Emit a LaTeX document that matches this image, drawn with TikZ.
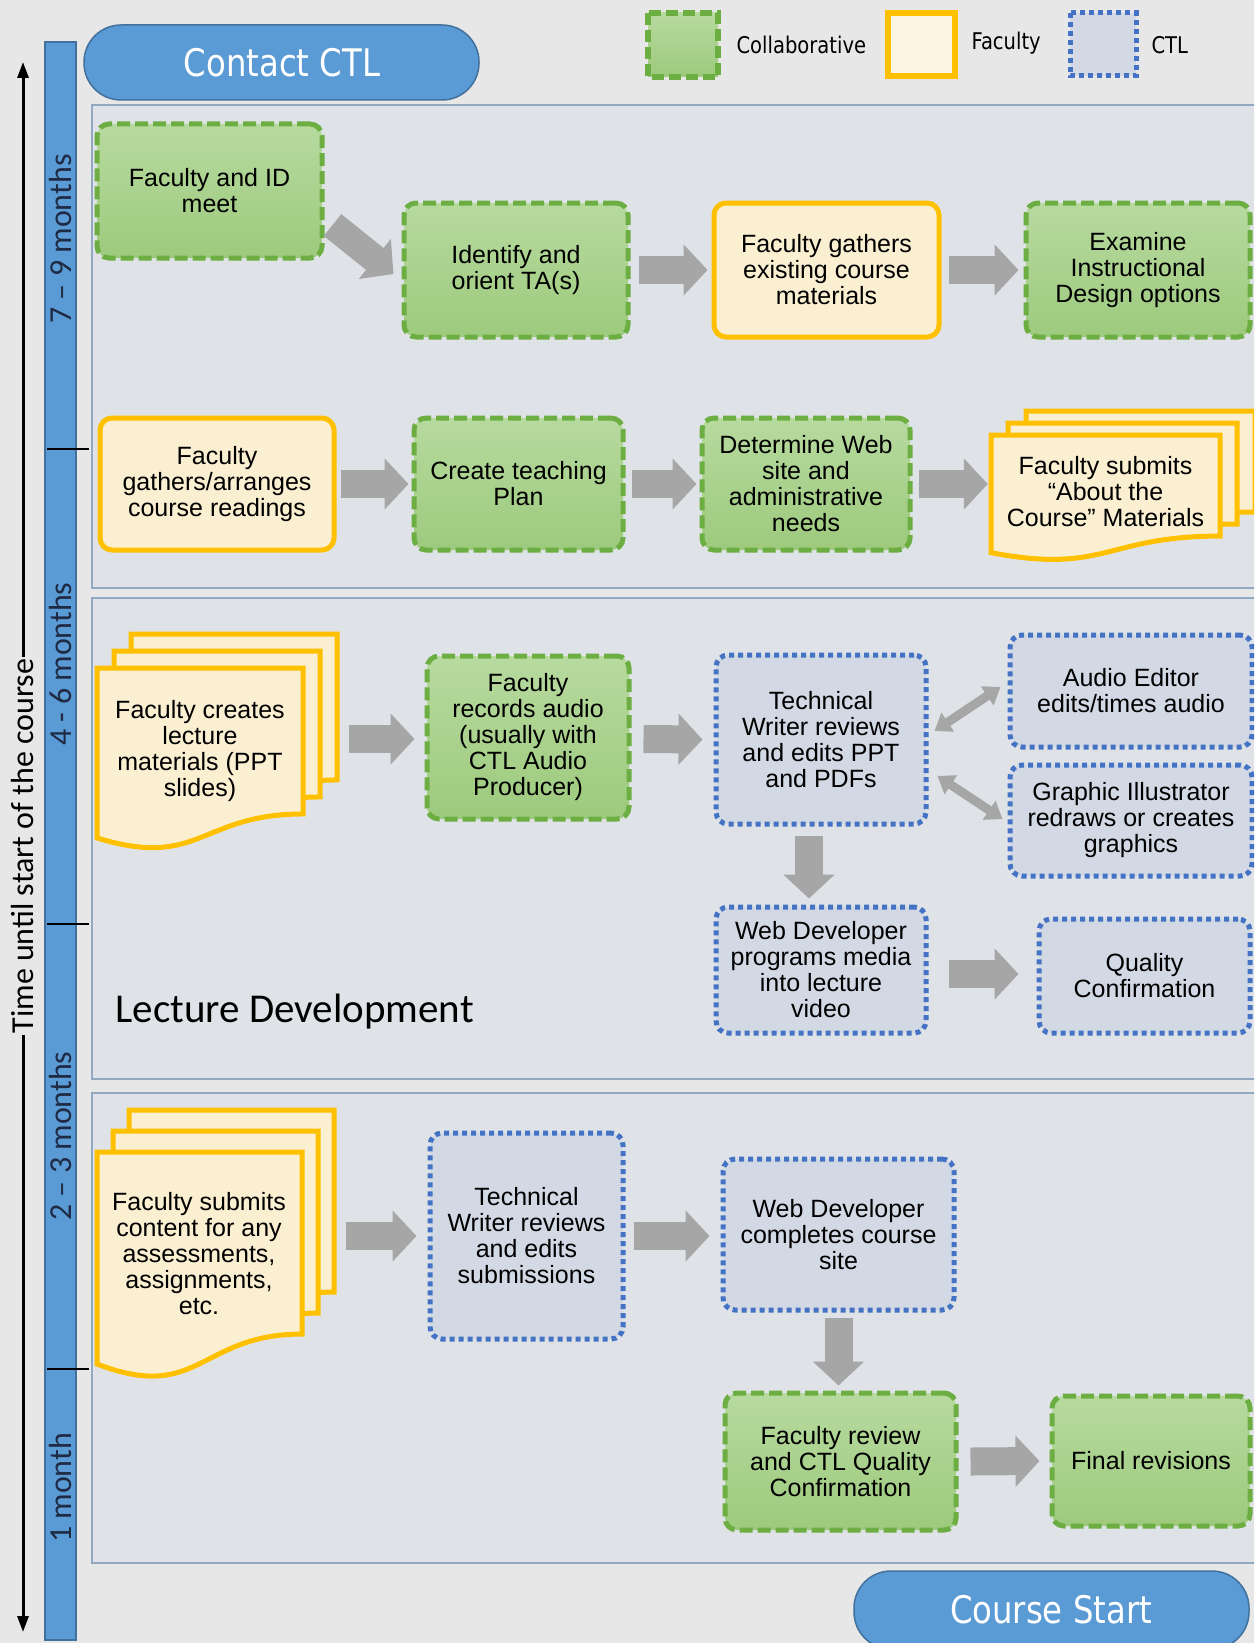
\documentclass[tikz,border=0pt]{standalone}
\usepackage{fontspec}
\setmainfont{Liberation Sans}
\newfontfamily\calib{Carlito}
\newfontfamily\dvs[FakeStretch=0.85]{DejaVu Sans}
\usetikzlibrary{arrows.meta}
\definecolor{bgc}{HTML}{E7E7E7}
\definecolor{panelc}{HTML}{DFE3E8}
\definecolor{panelb}{HTML}{93A9C2}
\definecolor{barc}{HTML}{5B9BD5}
\definecolor{barb}{HTML}{41719C}
\definecolor{grn}{HTML}{6DAE43}
\definecolor{gtop}{HTML}{B7DA9F}
\definecolor{gbot}{HTML}{9DCA7D}
\definecolor{yel}{HTML}{FFC000}
\definecolor{yfill}{HTML}{FBEFD2}
\definecolor{blu}{HTML}{4472C4}
\definecolor{bfill}{HTML}{D3D9E4}
\definecolor{arrg}{HTML}{A6A6A6}
\definecolor{monthc}{HTML}{1F2A44}
\tikzset{
  base/.style={rounded corners=12pt, line width=5pt, align=center, text=black,
    font={\fontsize{25}{26}\selectfont}, inner sep=2pt},
  gbox/.style={base, draw=grn, dash pattern=on 13pt off 5pt, top color=gtop, bottom color=gbot},
  ybox/.style={base, draw=yel, fill=yfill},
  bbox/.style={base, draw=blu, dash pattern=on 5pt off 4pt, fill=bfill},
  ydoc/.style={draw=yel, fill=yfill, line width=5pt, line join=miter},
  doctext/.style={align=center, text=black, font={\fontsize{25}{26}\selectfont}},
  blk/.style={line width=28pt, draw=arrg, -{Triangle[length=24pt,width=50pt]}},
  dblk/.style={line width=9pt, draw=arrg, {Triangle[length=16pt,width=22pt]}-{Triangle[length=16pt,width=22pt]}},
  pill/.style={rounded corners=37pt, fill=barc, draw=barb, line width=1.5pt},
  pilltext/.style={text=white, font={\dvs\fontsize{38}{40}\selectfont}},
  month/.style={rotate=90, text=monthc, font={\calib\fontsize{32}{34}\selectfont}},
  tick/.style={line width=2.5pt, draw=black},
  panel/.style={fill=panelc, draw=panelb, line width=1.2pt},
  legtext/.style={anchor=west, font={\dvs\fontsize{23}{25}\selectfont}, text=black},
}
\newcommand\yldoc[4]{%
  \pgfmathsetmacro\mydocXr{#1+#3}%
  \pgfmathsetmacro\mydocYa{#2+0.802*#4}%
  \pgfmathsetmacro\mydocYb{#2+1.107*#4}%
  \pgfmathsetmacro\mydocYc{#2+0.934*#4}%
  \pgfmathsetmacro\mydocXm{#1+0.5*#3}%
  \draw[ydoc] (#1,#2) -- (\mydocXr,#2) -- (\mydocXr,\mydocYa) .. controls (\mydocXm,\mydocYa) and (\mydocXm,\mydocYb) .. (#1,\mydocYc) -- cycle;
}
\begin{document}
\begin{tikzpicture}[x=1pt,y=-1pt]
\useasboundingbox (0,0) rectangle (1254,1643);
\clip (0,0) rectangle (1254,1643);
\fill[bgc] (0,0) rectangle (1254,1643);

% panels
\draw[panel] (92,105) rectangle (1270,588);
\draw[panel] (92,598) rectangle (1270,1079);
\draw[panel] (92,1093) rectangle (1270,1563);

% timeline bar
\draw[fill=barc, draw=barb, line width=1.2pt] (45,42) rectangle (76,1640);
\draw[tick] (47,449) -- (89,449);
\draw[tick] (47,924) -- (89,924);
\draw[tick] (47,1369) -- (89,1369);
\node[month] (m1) at (61,239) {7 – 9 months};
\node[month] (m2) at (61,664) {4 - 6 months};
\node[month] (m3) at (61,1136) {2 – 3 months};
\node[month] (m4) at (61,1488) {1 month};

% time arrow
\node[rotate=90, inner sep=1pt, font={\calib\fontsize{32}{34}\selectfont}] (tl) at (23,846) {Time until start of the course};
\coordinate (ttop) at (23,62);
\coordinate (tbot) at (23,1632);
\draw[line width=3pt, -{Triangle[length=16pt,width=11pt]}] (tl.east) -- (ttop);
\draw[line width=3pt, -{Triangle[length=16pt,width=11pt]}] (tl.west) -- (tbot);

% pills
\draw[pill] (84,25) rectangle (479,100);
\node[pilltext] (contact) at (282,63) {Contact CTL};
\draw[pill] (854,1571) rectangle (1249,1649);
\node[pilltext] (start) at (1051,1610) {Course Start};

% legend
\draw[line width=6pt, draw=grn, dash pattern=on 12pt off 5pt, top color=gtop, bottom color=gbot] (648,13) rectangle (718,77);
\node[legtext] (lg1) at (733,45) {Collaborative};
\draw[line width=6pt, draw=yel, fill=yfill!60!white] (888,13) rectangle (955,76);
\node[legtext] (lg2) at (968,43) {Faculty};
\draw[line width=5pt, draw=blu, dash pattern=on 5pt off 4pt, fill=bfill] (1070,13) rectangle (1136,76);
\node[legtext] (lg3) at (1148,45) {CTL};

% ---- panel 1
\node[gbox, minimum width=225pt, minimum height=134pt] (n1) at (209.5,191) {Faculty and ID\\meet};
\node[gbox, minimum width=224pt, minimum height=134pt] (n2) at (516,270) {Identify and\\orient TA(s)};
\node[ybox, minimum width=225pt, minimum height=134pt] (n3) at (826.5,270) {Faculty gathers\\existing course\\materials};
\node[gbox, minimum width=224pt, minimum height=134pt] (n4) at (1138,270) {Examine\\Instructional\\Design options};

\node[ybox, minimum width=234pt, minimum height=132pt] (n5) at (217,484) {Faculty\\gathers/arranges\\course readings};
\node[gbox, minimum width=209pt, minimum height=132pt] (n6) at (518.5,484) {Create teaching\\Plan};
\node[gbox, minimum width=208pt, minimum height=132pt] (n7) at (806,484) {Determine Web\\site and\\administrative\\needs};
\yldoc{1026}{411}{229}{126}
\yldoc{1008}{423}{229}{126}
\yldoc{991}{435}{229}{126}
\node[doctext, minimum width=229pt] (n8) at (1105.5,492) {Faculty submits\\“About the\\Course” Materials};

\draw[blk] ([shift={(8,34)}]n1.east) -- ([shift={(-8,4)}]n2.west);
\draw[blk] ([shift={(8,0)}]n2.east) -- ([shift={(-4,0)}]n3.west);
\draw[blk] ([shift={(7,0)}]n3.east) -- ([shift={(-5,0)}]n4.west);
\draw[blk] ([shift={(4,0)}]n5.east) -- ([shift={(-3,0)}]n6.west);
\draw[blk] ([shift={(6,0)}]n6.east) -- ([shift={(-3,0)}]n7.west);
\draw[blk] ([shift={(6,0)}]n7.east) -- ([shift={(-3,-8)}]n8.west);

% ---- panel 2
\yldoc{131}{634}{206}{182}
\yldoc{114}{651}{206}{182}
\yldoc{97}{668}{206}{182}
\node[doctext, minimum width=206pt] (n9) at (200,751) {Faculty creates\\lecture\\materials (PPT\\slides)};
\node[gbox, minimum width=202pt, minimum height=163pt] (n10) at (528,737.5) {Faculty\\records audio\\(usually with\\CTL Audio\\Producer)};
\node[bbox, minimum width=210pt, minimum height=169pt] (n11) at (821,739.5) {Technical\\Writer reviews\\and edits PPT\\and PDFs};
\node[bbox, minimum width=242pt, minimum height=112pt] (n12) at (1131,691) {Audio Editor\\edits/times audio};
\node[bbox, minimum width=242pt, minimum height=111pt] (n13) at (1131,820.5) {Graphic Illustrator\\redraws or creates\\graphics};
\node[bbox, minimum width=210pt, minimum height=126pt] (n14) at (821,970) {Web Developer\\programs media\\into lecture\\video};
\node[bbox, minimum width=211pt, minimum height=114pt] (n15) at (1144.5,976) {Quality\\Confirmation};
\node[anchor=west, font={\calib\fontsize{41}{43}\selectfont}, text=black] (ld) at (112,1012) {Lecture Development};

\draw[blk] ([shift={(46,-12)}]n9.east) -- ([shift={(-10,1.5)}]n10.west);
\draw[blk] ([shift={(12,1.5)}]n10.east) -- ([shift={(-11,0)}]n11.west);
\draw[dblk] ([shift={(6,-8.5)}]n11.east) -- ([shift={(-7,-4)}]n12.west);
\draw[dblk] ([shift={(9,36.5)}]n11.east) -- ([shift={(-5,-1.5)}]n13.west);
\draw[blk] ([shift={(-12,9)}]n11.south) -- ([shift={(-12,-6)}]n14.north);
\draw[blk] ([shift={(20,4)}]n14.east) -- ([shift={(-18,-2)}]n15.west);

% ---- panel 3
\yldoc{129}{1110}{205}{227}
\yldoc{113}{1131}{205}{227}
\yldoc{97}{1152}{205}{227}
\node[doctext, minimum width=205pt] (n16) at (199,1253.5) {Faculty submits\\content for any\\assessments,\\assignments,\\etc.};
\node[bbox, minimum width=193pt, minimum height=206pt] (n17) at (526.5,1236) {Technical\\Writer reviews\\and edits\\submissions};
\node[bbox, minimum width=231pt, minimum height=151pt] (n18) at (838.5,1234.5) {Web Developer\\completes course\\site};
\node[gbox, minimum width=231pt, minimum height=137pt] (n19) at (840.5,1461.5) {Faculty review\\and CTL Quality\\Confirmation};
\node[gbox, minimum width=198pt, minimum height=130pt] (n20) at (1151,1461) {Final revisions};

\draw[blk] ([shift={(44,-17.5)}]n16.east) -- ([shift={(-11,0)}]n17.west);
\draw[blk] ([shift={(8,0)}]n17.east) -- ([shift={(-11,1.5)}]n18.west);
\draw[blk] ([shift={(0,5)}]n18.south) -- ([shift={(-2,-5)}]n19.north);
\draw[blk] ([shift={(12,0)}]n19.east) -- ([shift={(-10,0)}]n20.west);
\end{tikzpicture}
\end{document}
